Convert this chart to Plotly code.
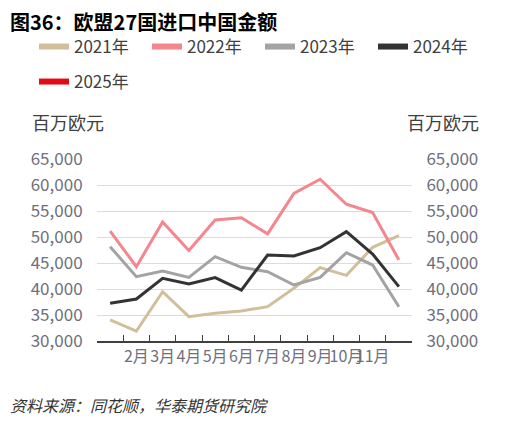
import plotly.graph_objects as go

months = ['1月', '2月', '3月', '4月', '5月', '6月', '7月', '8月', '9月', '10月', '11月', '12月']

y2021 = [34040, 31920, 39480, 34680, 35320, 35770, 36600, 40130, 44100, 42630, 48020, 50250]
y2022 = [51150, 44290, 52900, 47400, 53270, 53700, 50600, 58400, 61100, 56300, 54700, 45600]
y2023 = [48140, 42370, 43460, 42240, 46220, 44170, 43330, 40770, 42240, 46980, 44610, 36600]
y2024 = [37240, 38080, 42050, 40960, 42180, 39800, 46540, 46350, 47950, 51020, 46730, 40450]
y2025 = [None] * 12

FONT = 'Noto Sans CJK SC'
TICK_COLOR = '#6f6f7d'
W, H = 519, 426
L, R, T, B = 89, 115, 151, 93
PW, PH = W - L - R, H - T - B

# 图例：名称、数据、颜色、图例位置(像素)
series = [
    ('2021年', y2021, '#d1bf9b', 'legend', 26, 39),
    ('2022年', y2022, '#f4868d', 'legend2', 139, 39),
    ('2023年', y2023, '#a3a3a5', 'legend3', 252, 39),
    ('2024年', y2024, '#333333', 'legend4', 365, 39),
    ('2025年', y2025, '#e20a16', 'legend5', 26, 74),
]

x = list(range(1, 13))

fig = go.Figure()
legends = {}
for name, ys, color, lg, lx, ly in series:
    fig.add_trace(go.Scatter(x=x, y=ys, mode='lines', name=name, showlegend=False,
                             line=dict(color=color, width=3)))
    # 图例里的线更粗，单独放一个空系列
    fig.add_trace(go.Scatter(x=[None], y=[None], mode='lines', name=name, legend=lg,
                             line=dict(color=color, width=6)))
    legends[lg] = dict(orientation='h', xref='container', yref='container',
                       x=lx / W, y=1 - ly / H, xanchor='left', yanchor='middle',
                       font=dict(family=FONT, size=17, color='#404040'),
                       bgcolor='rgba(0,0,0,0)')
# 右轴用一条不可见的线撑起来
fig.add_trace(go.Scatter(x=x, y=y2024, mode='lines', yaxis='y2', showlegend=False,
                         line=dict(color='rgba(0,0,0,0)'), hoverinfo='skip'))

fig.update_layout(
    width=W, height=H,
    margin=dict(l=L, r=R, t=T, b=B),
    paper_bgcolor='white', plot_bgcolor='white',
    font=dict(family=FONT, color='#404040', size=15),
    showlegend=True,
    **legends,
    xaxis=dict(range=[0.5, 12.5], tickmode='array', tickvals=x[1:11], ticktext=months[1:11],
               tickangle=0, ticks='', showgrid=False, zeroline=False, automargin=False,
               showline=True, linecolor='#404040', linewidth=1.5,
               tickfont=dict(family=FONT, size=16, color=TICK_COLOR),
               minor=dict(tickmode='array', tickvals=[i + 0.5 for i in range(1, 12)],
                          ticks='inside', ticklen=6, tickcolor='#404040', tickwidth=1,
                          showgrid=False)),
    yaxis=dict(range=[30000, 65000], dtick=5000, tickformat=',d', showgrid=True,
               gridcolor='#d9dce8', gridwidth=1, zeroline=False, automargin=False,
               ticks='outside', ticklen=10, tickcolor='rgba(0,0,0,0)',
               tickfont=dict(family=FONT, size=17, color=TICK_COLOR)),
    yaxis2=dict(range=[30000, 65000], dtick=5000, tickformat=',d', overlaying='y',
                side='right', showgrid=False, zeroline=False, automargin=False,
                ticks='outside', ticklen=10, tickcolor='rgba(0,0,0,0)',
                tickfont=dict(family=FONT, size=17, color=TICK_COLOR)),
)


def px(v):
    return (v - L) / PW


def py(v):
    return 1 - (v - T) / PH


fig.add_annotation(text='<b>图36：欧盟27国进口中国金额</b>', xref='paper', yref='paper',
                   x=px(0), y=py(13), xanchor='left', yanchor='middle',
                   showarrow=False, font=dict(family=FONT, size=20, color='#000000'))
fig.add_annotation(text='百万欧元', xref='paper', yref='paper',
                   x=px(60), y=py(114), xanchor='center', yanchor='middle',
                   showarrow=False, font=dict(family=FONT, size=18, color='#404040'))
fig.add_annotation(text='百万欧元', xref='paper', yref='paper',
                   x=px(435), y=py(114), xanchor='center', yanchor='middle',
                   showarrow=False, font=dict(family=FONT, size=18, color='#404040'))
fig.add_annotation(text='<i>资料来源：同花顺，华泰期货研究院</i>', xref='paper', yref='paper',
                   x=px(0), y=py(397), xanchor='left', yanchor='middle',
                   showarrow=False, font=dict(family=FONT, size=16, color='#333333'))

fig.write_html('out.html')
